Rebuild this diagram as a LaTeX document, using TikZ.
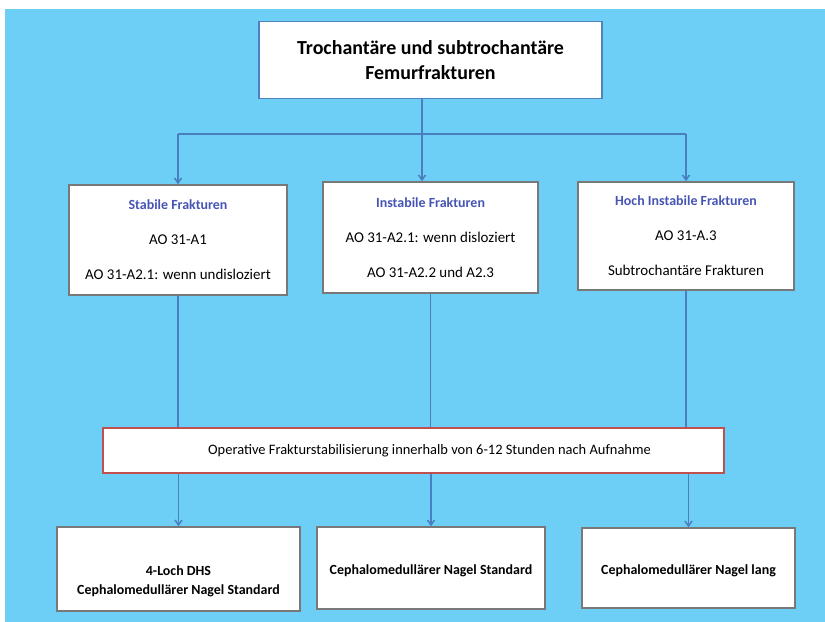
\documentclass[tikz,border=0pt]{standalone}
\usepackage{fontspec}
\setmainfont{Carlito}
\usetikzlibrary{arrows.meta}
\definecolor{bg}{RGB}{109,207,246}
\definecolor{lineblue}{RGB}{74,126,192}
\definecolor{titleborder}{RGB}{79,129,189}
\definecolor{hdr}{RGB}{70,85,180}
\definecolor{boxgrey}{RGB}{120,120,120}
\definecolor{redborder}{RGB}{192,80,77}
\newcommand\hdtext[1]{{\fontsize{14}{18}\selectfont\bfseries\color{hdr}#1}}
\begin{document}
\begin{tikzpicture}[x=1bp,y=-1bp,
 box/.style={draw=boxgrey, line width=1.4bp, fill=white, rectangle, align=center, inner sep=0pt},
 conn/.style={draw=lineblue, line width=1.5bp},
 arr/.style={conn, -{Straight Barb[length=5bp,width=7bp]}},
 body/.style={font=\fontsize{15}{18}\selectfont},
 bottomtxt/.style={font=\fontsize{14}{19}\selectfont\bfseries},
 ]
\useasboundingbox (0,0) rectangle (825,622);
\fill[white] (0,0) rectangle (825,622);
\fill[bg] (5,9) rectangle (825,622);

\node[box, draw=titleborder, line width=1.6bp, minimum width=343bp, minimum height=77bp,
  font=\fontsize{20}{25}\selectfont\bfseries] (title) at (430.5,60)
  {Trochantäre und subtrochantäre\\Femurfrakturen};

\node[box, minimum width=218bp, minimum height=110bp, body] (stab) at (178,240)
  {\hdtext{Stabile Frakturen}\\[17bp]AO 31-A1\\[17bp]AO 31-A2.1: wenn undisloziert};
\node[box, minimum width=215bp, minimum height=111bp, body] (inst) at (430.5,237.5)
  {\hdtext{Instabile Frakturen}\\[17bp]AO 31-A2.1: wenn disloziert\\[17bp]AO 31-A2.2 und A2.3};
\node[box, minimum width=216bp, minimum height=108bp, body] (hoch) at (686,236)
  {\hdtext{Hoch Instabile Frakturen}\\[17bp]AO 31-A.3\\[17bp]Subtrochantäre Frakturen};

\node[box, draw=redborder, line width=1.6bp, minimum width=621bp, minimum height=45bp,
  font=\fontsize{14.5}{17}\selectfont] (red) at (413.5,450.5)
  {\hspace*{32bp}Operative Frakturstabilisierung innerhalb von 6-12 Stunden nach Aufnahme};

\node[box, minimum width=243bp, minimum height=84bp, bottomtxt] (b1) at (178.5,569)
  {\mbox{}\\[15bp]4-Loch DHS\\Cephalomedullärer Nagel Standard};
\node[box, minimum width=228bp, minimum height=82bp, bottomtxt, text height=16bp, text depth=3bp] (b2) at (431,568)
  {Cephalomedullärer Nagel Standard};
\node[box, minimum width=213bp, minimum height=80bp, bottomtxt, text height=16bp, text depth=3bp] (b3) at (688.5,568)
  {Cephalomedullärer Nagel lang};

\coordinate (tj) at (422,134);
\draw[conn] (title.south -| tj) -- (tj);
\draw[conn] (stab.north |- tj) -- (hoch.north |- tj);
\draw[arr] (stab.north |- tj) -- (stab.north);
\draw[arr] (tj) -- (tj |- inst.north);
\draw[arr] (hoch.north |- tj) -- (hoch.north);

\draw[conn] (stab.south) -- (stab.south |- red.north);
\draw[conn] (inst.south) -- (inst.south |- red.north);
\draw[conn] (hoch.south) -- (hoch.south |- red.north);

\draw[arr] (b1.north |- red.south) -- (b1.north);
\draw[arr] (b2.north |- red.south) -- (b2.north);
\draw[arr] (b3.north |- red.south) -- (b3.north);
\end{tikzpicture}
\end{document}
